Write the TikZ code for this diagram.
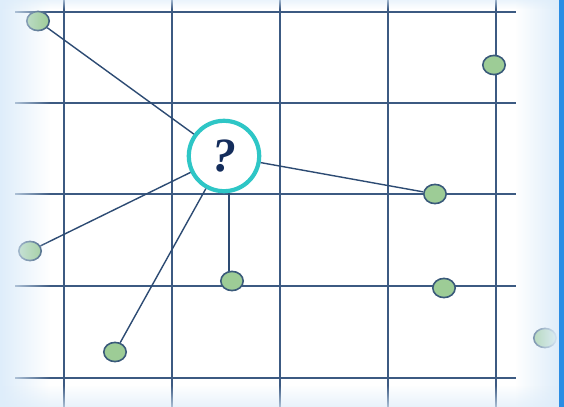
\documentclass[tikz,border=0pt]{standalone}
\usepackage{fontspec}
\setmainfont{Liberation Serif}
\usetikzlibrary{positioning, shapes.geometric, fadings}
\definecolor{gridc}{RGB}{60,90,130}
\definecolor{linkc}{RGB}{45,75,115}
\definecolor{dotfill}{RGB}{157,204,150}
\definecolor{dotdraw}{RGB}{58,90,122}
\definecolor{ringc}{RGB}{46,198,198}
\definecolor{qcol}{RGB}{20,45,92}
\definecolor{glowc}{RGB}{222,237,250}
\definecolor{edgec}{RGB}{42,141,228}

\begin{document}
\begin{tikzpicture}[x=0.25mm, y=-0.25mm,
    pt/.style={ellipse, draw=dotdraw, line width=0.4mm, fill=dotfill, minimum width=5.6mm, minimum height=4.8mm, inner sep=0pt},
    query/.style={circle, draw=ringc, line width=1.05mm, fill=white, minimum size=17.6mm, inner sep=0pt, text=qcol, font=\fontsize{34}{38}\selectfont\bfseries\itshape},
    link/.style={draw=linkc, line width=0.35mm}]
    \useasboundingbox (0,0) rectangle (564,407);
    \fill[white] (0,0) rectangle (564,407);
    % grid
    \foreach \x in {64,172,280,388,496}
      \draw[gridc, line width=0.5mm] (\x,0) -- (\x,407);
    \foreach \y in {12,103,194,286,378}
      \draw[gridc, line width=0.5mm] (15,\y) -- (516,\y);

    \node[query] (q) at (224,156) {?};
    \node[pt] (d1) at (38,21) {};
    \node[pt] (d2) at (494,65) {};
    \node[pt] (d3) at (435,194) {};
    \node[pt] (d4) at (30,251) {};
    \node[pt] (d5) at (232,281) {};
    \node[pt] (d6) at (444,288) {};
    \node[pt] (d7) at (545,338) {};
    \node[pt] (d8) at (115,352) {};

    \foreach \d in {d1,d3,d4,d8}
      \path[link] (q) -- (\d);
    \path[link] (q.-82) -- (q.-82 |- d5.north);

    % glow round the edges
    \fill[glowc, path fading=east] (0,0) rectangle (50,407);
    \fill[glowc, path fading=west] (515,0) rectangle (559,407);
    \fill[glowc, path fading=north, opacity=0.7] (0,385) rectangle (559,407);
    \fill[glowc, path fading=south, opacity=0.6] (0,0) rectangle (559,9);
    \fill[edgec] (559,0) rectangle (564,407);
\end{tikzpicture}
\end{document}
